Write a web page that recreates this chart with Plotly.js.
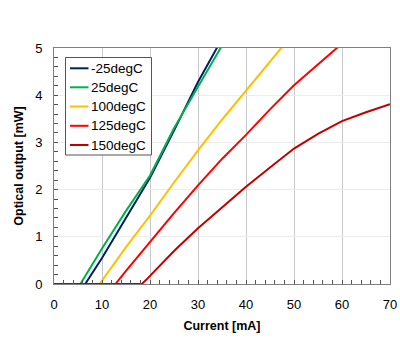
<!DOCTYPE html>
<html>
<head>
<meta charset="utf-8">
<script src="https://cdn.plot.ly/plotly-3.0.1.min.js"></script>
<style>html,body{margin:0;padding:0;background:#fff;}#chart{width:400px;height:350px;}</style>
</head>
<body>
<div id="chart"></div>
<script>
const seriesNames = ["-25degC", "25degC", "100degC", "125degC", "150degC"];
const seriesColors = ["#002060", "#00b050", "#ffc000", "#ff0000", "#c00000"];

const xM25 = [0, 6.5, 10, 15, 20, 25, 30, 34.2];
const yM25 = [0, 0, 0.55, 1.4, 2.25, 3.25, 4.28, 5.05];

const x25 = [0, 5.5, 10, 15, 20, 25, 30, 35];
const y25 = [0, 0, 0.75, 1.55, 2.3, 3.3, 4.18, 5.05];

const x100 = [0, 9.5, 15, 20, 25, 30, 35, 40, 45, 48];
const y100 = [0, 0, 0.78, 1.45, 2.15, 2.83, 3.48, 4.1, 4.7, 5.08];

const x125 = [0, 12.8, 15, 20, 25, 30, 35, 40, 45, 50, 55, 59.5];
const y125 = [0, 0, 0.28, 0.9, 1.5, 2.09, 2.65, 3.16, 3.7, 4.21, 4.65, 5.05];

const x150 = [0, 18.3, 19.5, 25, 30, 35, 40, 45, 50, 55, 60, 65, 70];
const y150 = [0, 0, 0.12, 0.7, 1.18, 1.62, 2.06, 2.47, 2.87, 3.18, 3.45, 3.64, 3.81];

const xs = [xM25, x25, x100, x125, x150];
const ys = [yM25, y25, y100, y125, y150];

const traces = seriesNames.map((n, i) => ({
  x: xs[i], y: ys[i], name: n, type: "scatter", mode: "lines",
  line: {color: seriesColors[i], width: 2}
}));

const fam = "Liberation Sans, Arial, sans-serif";

// custom legend (plot-area paper coordinates)
const plotL = 54, plotT = 48, plotW = 336, plotH = 236;
const px = v => (v - plotL) / plotW;
const py = v => (plotT + plotH - v) / plotH;
const shapes = [{
  type: "rect", xref: "paper", yref: "paper",
  x0: px(65.5), x1: px(151.5), y0: py(155), y1: py(57.5),
  line: {color: "#555", width: 1}, fillcolor: "#fff", layer: "above"
}];
const annotations = [];
const rowY = [68.3, 87.3, 106.5, 125.8, 145];
seriesNames.forEach((n, i) => {
  shapes.push({type: "line", xref: "paper", yref: "paper",
    x0: px(70), x1: px(88.5), y0: py(rowY[i]), y1: py(rowY[i]),
    line: {color: seriesColors[i], width: 2}, layer: "above"});
  annotations.push({xref: "paper", yref: "paper", x: px(88.5), y: py(rowY[i]),
    xanchor: "left", yanchor: "middle", showarrow: false, text: n,
    font: {family: fam, size: 13.5, color: "#000"}});
});

const layout = {
  width: 400, height: 350,
  margin: {l: 54, r: 10, t: 48, b: 66},
  paper_bgcolor: "#fff", plot_bgcolor: "#fff",
  font: {family: fam, size: 13, color: "#000"},
  showlegend: false,
  shapes: shapes,
  annotations: annotations,
  xaxis: {
    range: [0, 70], dtick: 10, tick0: 0,
    showgrid: true, gridcolor: "#c8c8c8", gridwidth: 1,
    showline: true, linecolor: "#808080", linewidth: 1, mirror: true,
    ticks: "inside", ticklen: 4, tickcolor: "#555",
    minor: {dtick: 2, ticks: "inside", ticklen: 4, tickcolor: "#555", showgrid: false},
    zeroline: false, ticklabelstandoff: 8,
    tickfont: {family: fam, size: 13, color: "#000"},
    title: {text: "Current [mA]", font: {family: fam, size: 12.5, color: "#000", weight: "bold"}, standoff: 10}
  },
  yaxis: {
    range: [0, 5], dtick: 1, tick0: 0,
    showgrid: true, gridcolor: "#ececec", gridwidth: 1,
    showline: true, linecolor: "#808080", linewidth: 1, mirror: true,
    ticks: "inside", ticklen: 4, tickcolor: "#555",
    minor: {dtick: 0.2, ticks: "inside", ticklen: 4, tickcolor: "#555", showgrid: false},
    zeroline: false, ticklabelstandoff: 8,
    tickfont: {family: fam, size: 13, color: "#000"},
    title: {text: "Optical output [mW]", font: {family: fam, size: 12.5, color: "#000", weight: "bold"}, standoff: 8}
  }
};

Plotly.newPlot("chart", traces, layout, {displayModeBar: false, staticPlot: true});
</script>
</body>
</html>
